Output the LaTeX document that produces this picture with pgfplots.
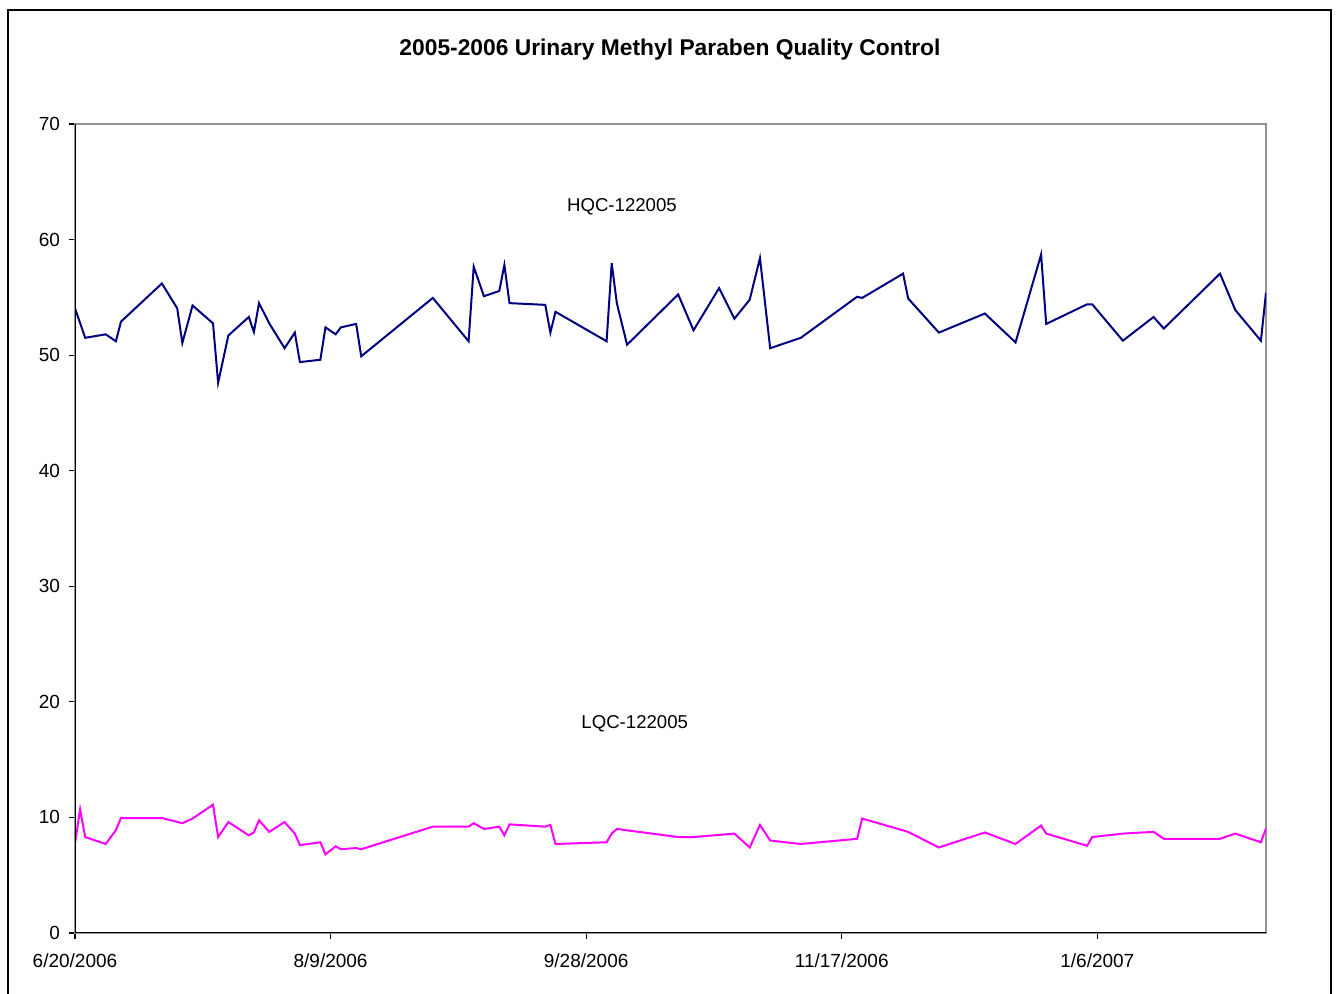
\documentclass[border=0pt]{standalone}
\usepackage{pgfplots}
\pgfplotsset{compat=1.18}
\usepackage{fontspec}
\setmainfont{Liberation Sans}
\definecolor{hqc}{RGB}{0,0,128}
\definecolor{lqc}{RGB}{255,0,255}
\begin{document}
\begin{tikzpicture}[x=1pt,y=1pt]
\path[use as bounding box] (-37.5,-30.5) rectangle (631.5,466.5);
\draw[black, line width=0.8pt] (-33.5,-31) rectangle (628,461.5);
\node[font=\bfseries\fontsize{11.4}{13}\selectfont] at (297.5,441.5) {2005-2006 Urinary Methyl Paraben Quality Control};
\begin{axis}[
  at={(0,0)}, anchor=south west,
  scale only axis, width=595.5pt, height=404.5pt,
  xmin=0, xmax=233, ymin=0, ymax=70,
  ytick={0,10,...,70},
  xtick={0,50,100,150,200},
  xticklabels={6/20/2006,8/9/2006,9/28/2006,11/17/2006,1/6/2007},
  tick pos=left, tick align=outside, major tick length=3pt,
  tick style={black, line width=0.6pt},
  axis line style={gray!85, line width=0.9pt},
  ticklabel style={font=\fontsize{9.5}{11}\selectfont},
  /pgf/number format/assume math mode=true,
  x tick label style={yshift=-4pt},
  y tick label style={xshift=-1pt},
]
\addplot[hqc, line width=1pt] coordinates {
(0,54.05) (2,51.5) (6,51.8) (8,51.2) (9,52.9) (17,56.2) (20,54.05) (21,51.05)
(23,54.3) (27,52.75) (28,47.6) (30,51.7) (34,53.3) (35,52.0) (36,54.5) (38,52.75)
(41,50.6) (43,51.95) (44,49.4) (48,49.6) (49,52.4) (51,51.8) (52,52.4) (55,52.7)
(56,49.9) (70,54.95) (77,51.2) (78,57.65) (80,55.1) (83,55.55) (84,57.8) (85,54.5)
(92,54.35) (93,51.95) (94,53.75) (104,51.2) (105,57.95) (106,54.5) (108,50.9)
(118,55.25) (121,52.15) (126,55.8) (129,53.15) (132,54.8) (134,58.4) (136,50.6)
(142,51.5) (153,55.05) (154,54.95) (162,57.05) (163,54.9) (169,51.95) (178,53.6)
(184,51.1) (189,58.7) (190,52.7) (198,54.4) (199,54.4) (205,51.25) (211,53.3)
(213,52.3) (224,57.05) (227,53.9) (232,51.25) (233,55.4)
};
\addplot[lqc, line width=1pt] coordinates {
(0,7.76) (1,10.7) (2,8.3) (6,7.7) (8,8.9) (9,9.95) (17,9.95) (21,9.5) (23,9.9)
(27,11.1) (28,8.3) (30,9.6) (34,8.45) (35,8.7) (36,9.75) (38,8.75) (41,9.6)
(43,8.6) (44,7.6) (48,7.85) (49,6.8) (51,7.5) (52,7.25) (55,7.35) (56,7.25)
(70,9.2) (77,9.2) (78,9.5) (80,9.0) (83,9.2) (84,8.45) (85,9.4) (92,9.2) (93,9.35)
(94,7.7) (104,7.85) (105,8.6) (106,9.0) (118,8.3) (121,8.3) (129,8.6) (132,7.4)
(134,9.35) (136,8.0) (142,7.7) (153,8.15) (154,9.9) (163,8.75) (169,7.4) (178,8.7)
(184,7.7) (189,9.3) (190,8.6) (198,7.55) (199,8.3) (205,8.6) (211,8.75) (213,8.15)
(224,8.15) (227,8.6) (232,7.85) (233,9.05)
};
\node[font=\fontsize{9.3}{11}\selectfont] at (axis cs:107,62.8) {HQC-122005};
\node[font=\fontsize{9.3}{11}\selectfont] at (axis cs:109.5,18.1) {LQC-122005};
\draw[black, line width=0.9pt] (rel axis cs:0,1) -- (rel axis cs:0,0) -- (rel axis cs:1,0);
\end{axis}
\end{tikzpicture}
\end{document}
